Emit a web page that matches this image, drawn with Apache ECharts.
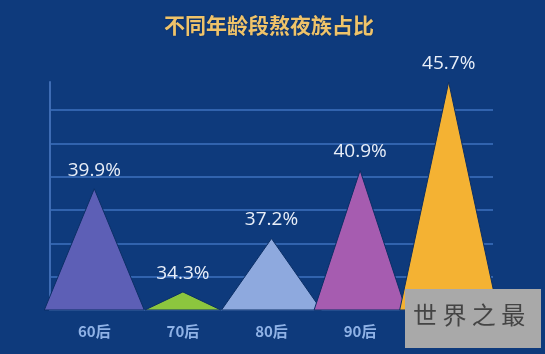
<!DOCTYPE html>
<html>
	<head>
		<meta charset="utf-8">
		<title></title>
		<script src="https://cdn.jsdelivr.net/npm/echarts@6/dist/echarts.min.js"></script>
		<style>
			body{margin:0;background:#0e3a7c;}
		</style>
	</head>
	<body>
		<div id="my" style="width: 545px;height: 354px;"></div>

		<script>
			var myChart = echarts.init(document.getElementById('my'));

			var titleText = '不同年龄段熬夜族占比';
			var ages = ['60后', '70后', '80后', '90后', '00后'];
			var rates = [39.9, 34.3, 37.2, 40.9, 45.7];
			var colors = ['#5d5fb6', '#8cc63e', '#8ea9de', '#a65cb0', '#f4b233'];
			var widths = [100, 76, 100, 92, 98];
			var yMin = 33.32;
			var yMax = 45.7;

			var Data = rates.map(function (v, i) {
				return [i, v];
			});

			var option = {
				backgroundColor: '#0e3a7c',
				title: {
					text: titleText,
					left: 159,
					top: 10,
					textStyle: {
						color: '#efc36a',
						fontFamily: 'Noto Sans CJK SC',
						fontSize: 21,
						fontWeight: 'bold',
						textShadowColor: 'rgba(0,0,0,0.25)',
						textShadowBlur: 2
					}
				},
				grid: {
					left: 50,
					right: 52,
					top: 82,
					bottom: 44
				},
				xAxis: {
					type: 'category',
					data: ages,
					axisLine: {lineStyle: {color: '#3e6cb4', width: 2}},
					axisTick: {show: false},
					axisLabel: {
						color: '#8fb2e6',
						fontFamily: 'Noto Sans CJK SC',
						fontWeight: 'bold',
						fontSize: 15,
						margin: 14
					}
				},
				yAxis: [
					{//数据轴
						type: 'value',
						show: false,
						min: yMin,
						max: yMax
					},
					{//网格线
						type: 'value',
						position: 'left',
						min: 0,
						max: 6.84,
						interval: 1,
						axisLine: {show: true, lineStyle: {color: '#3e6cb4', width: 2}},
						axisTick: {show: false},
						axisLabel: {show: false},
						splitLine: {showMaxLine: false, lineStyle: {color: '#3163ae', width: 2}}
					}
				],
				series: [
					{
						type: 'custom',
						yAxisIndex: 0,
						data: Data,
						renderItem: function (params, api) {
							var i = api.value(0);
							var top = api.coord([i, api.value(1)]);
							var base = api.coord([i, yMin]);
							var w = widths[i] / 2;
							return {
								type: 'group',
								children: [
									{
										type: 'polygon',
										shape: {points: [[top[0] - w, base[1]], top, [top[0] + w, base[1]]]},
										style: {fill: colors[i], stroke: '#0b2f66', lineWidth: 1}
									},
									{
										type: 'text',
										x: top[0],
										y: top[1] - 9,
										style: {
											text: api.value(1) + '%',
											align: 'center',
											verticalAlign: 'bottom',
											fill: '#e8eef8',
											font: '19px "Open Sans"'
										}
									}
								]
							};
						},
						z: 3
					}
				],
				graphic: [
					{//水印
						type: 'rect',
						left: 405,
						top: 289,
						shape: {width: 136, height: 59},
						style: {fill: '#a9a9a9'},
						z: 10
					},
					{
						type: 'text',
						left: 413,
						top: 303,
						style: {
							text: '世 界 之 最',
							fill: '#444',
							font: '24px "Noto Sans CJK SC"'
						},
						z: 11
					}
				]
			};

			myChart.setOption(option);
		</script>
	</body>
</html>
